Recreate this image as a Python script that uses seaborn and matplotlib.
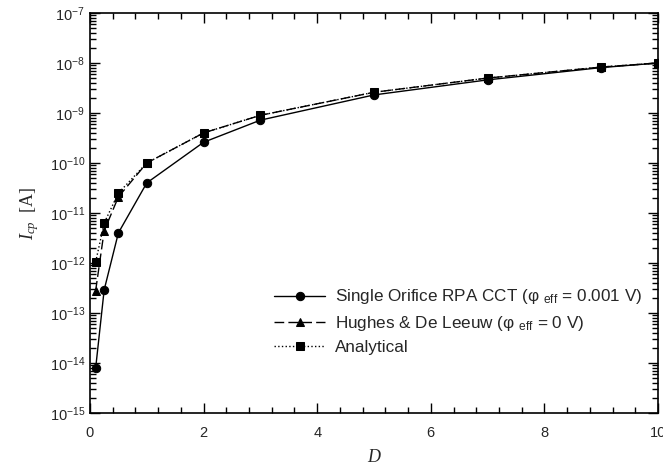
import numpy as np
import pandas as pd
import matplotlib
matplotlib.use('Agg')
import matplotlib.pyplot as plt
import matplotlib.ticker as mticker
import seaborn as sns

# ---- data ----
D = [0.1, 0.25, 0.5, 1, 2, 3, 5, 7, 9, 10]
rpa_cct = [7.9e-15, 2.9e-13, 4.0e-12, 4.0e-11, 2.6e-10, 7.2e-10, 2.3e-9, 4.6e-9, 8.1e-9, 1.0e-8]
hughes = [2.8e-13, 4.4e-12, 2.1e-11, 1.0e-10, 4.0e-10, 9.0e-10, 2.6e-9, 5.0e-9, 8.3e-9, 1.0e-8]
analytical = [1.05e-12, 6.3e-12, 2.5e-11, 1.0e-10, 4.0e-10, 9.0e-10, 2.6e-9, 5.0e-9, 8.3e-9, 1.0e-8]

labels = [r'Single Orifice RPA CCT (φ $_{\rm eff}$ = 0.001 V)',
          r'Hughes & De Leeuw (φ $_{\rm eff}$ = 0 V)',
          'Analytical']

sns.set_style('ticks')
plt.rcParams['font.family'] = ['Liberation Sans', 'DejaVu Sans']
plt.rcParams['mathtext.fontset'] = 'custom'
plt.rcParams['mathtext.default'] = 'regular'
plt.rcParams['mathtext.it'] = 'Liberation Serif:italic'
plt.rcParams['mathtext.rm'] = 'Liberation Sans'

fig = plt.figure(figsize=(6.63, 4.75), dpi=100)
ax = fig.add_axes([0.1357, 0.1305, 0.8568, 0.8421])

styles = [('-', 'o', 6.0), ((0, (7, 3)), '^', 6.0), (':', 's', 5.5)]
for vals, lab, (ls, mk, ms) in zip([rpa_cct, hughes, analytical], labels, styles):
    df = pd.DataFrame({'D': D, 'I': vals})
    sns.lineplot(data=df, x='D', y='I', ax=ax, color='black', linewidth=1.0,
                 linestyle=ls, marker=mk, markersize=ms, markeredgecolor='black',
                 label=lab)

ax.set_yscale('log')
ax.set_xlim(0, 10)
ax.set_ylim(1e-15, 1e-7)
ax.xaxis.set_major_locator(mticker.MultipleLocator(2))
ax.xaxis.set_minor_locator(mticker.MultipleLocator(0.4))
ax.yaxis.set_major_locator(mticker.LogLocator(base=10, numticks=20))
ax.yaxis.set_minor_locator(mticker.LogLocator(base=10, subs=np.arange(2, 10), numticks=20))
ax.yaxis.set_minor_formatter(mticker.NullFormatter())

ax.tick_params(which='both', direction='in', top=True, right=True, labelsize=10.5,
               width=1.0, color='black')
ax.tick_params(which='major', length=7)
ax.tick_params(which='minor', length=4)
ax.tick_params(axis='x', pad=9)
for sp in ax.spines.values():
    sp.set_linewidth(1.2)
    sp.set_color('black')

ax.set_xlabel('D', fontfamily='Liberation Serif', style='italic', fontsize=13, labelpad=7)
ax.set_ylabel(r'$\mathit{I_{cp}}$  [A]', fontfamily='Liberation Serif', fontsize=13, labelpad=6)

leg = ax.legend(loc='lower right', bbox_to_anchor=(1.0, 0.107), frameon=False,
                handlelength=3.0, fontsize=12.3, labelspacing=0.42, handletextpad=0.6)

fig.savefig('out.png', dpi=100)
